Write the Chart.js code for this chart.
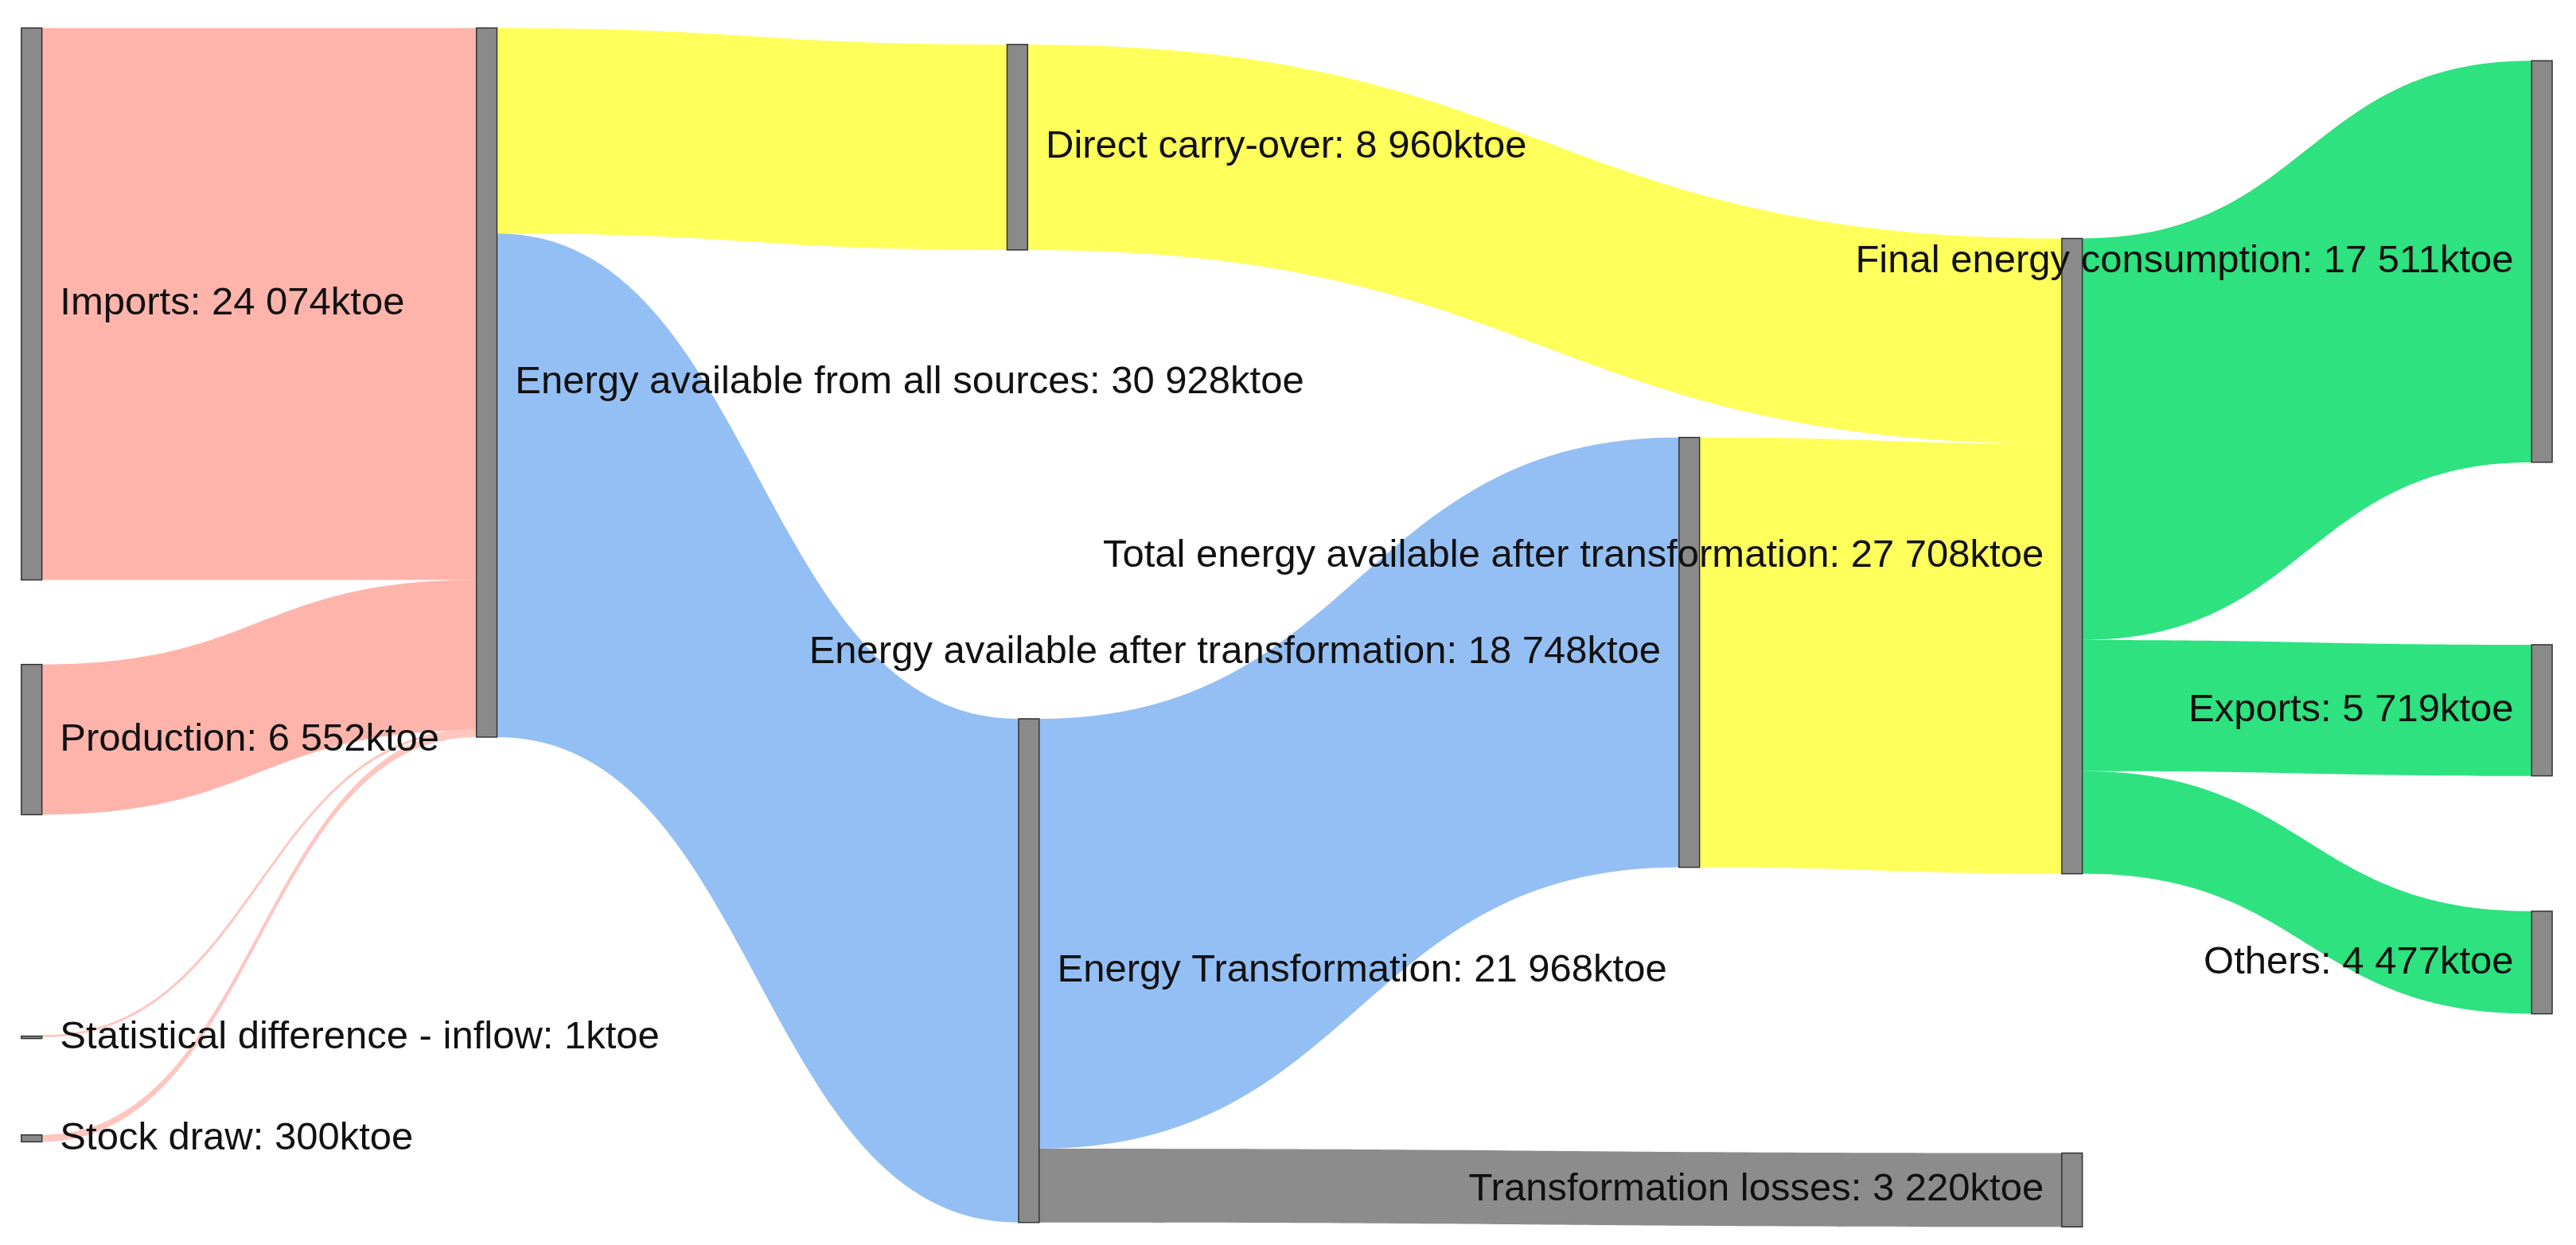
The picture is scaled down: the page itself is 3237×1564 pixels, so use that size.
<!DOCTYPE html>
<html>
<head>
<meta charset="utf-8">
<script src="https://cdn.jsdelivr.net/npm/chart.js@4/dist/chart.umd.min.js"></script>
<style>
  html, body { margin: 0; padding: 0; background: #fff; }
  #wrap { width: 3237px; height: 1564px; }
</style>
</head>
<body>
<div id="wrap"><canvas id="sankey"></canvas></div>
<script>
// nodes (values in ktoe)
const nodeNames = [
  'Imports', 'Production', 'Statistical difference - inflow', 'Stock draw',
  'Energy available from all sources', 'Direct carry-over', 'Energy Transformation',
  'Energy available after transformation', 'Total energy available after transformation',
  'Final energy consumption', 'Exports', 'Others', 'Transformation losses',
]
const nodeValues = [24074, 6552, 1, 300, 30928, 8960, 21968, 18748, 27708, 17511, 5719, 4477, 3220]

// flows: from, to, ktoe
const linkFrom  = [0, 1, 2, 3, 4, 4, 5, 6, 6, 7, 8, 8, 8]
const linkTo    = [4, 4, 4, 4, 5, 6, 8, 7, 12, 8, 9, 10, 11]
const linkValue = [24074, 6552, 1, 300, 8960, 21968, 8960, 18748, 3220, 18748, 17511, 5719, 4477]

// layout: column x (in 1568-wide units) and node top (in ktoe along the y axis)
const nodeX   = [13, 13, 13, 13, 290, 613, 620, 1022, 1255, 1541, 1541, 1541, 1255]
const nodeTop = [1220, 28980, 45190, 49500, 1220, 1940, 31350, 19080, 10400, 2650, 28120, 39740, 50290]
const NODE_W = 12.5

const PINK = '#ffb4ab', YELLOW = '#ffff5c', BLUE = '#94bff4', GREEN = '#2de27f', GREY = '#8c8c8c'
const linkColor = [PINK, PINK, '#ffc6c0', '#ffc6c0', YELLOW, BLUE, YELLOW, BLUE, GREY, YELLOW, GREEN, GREEN, GREEN]

function fmt(v) {
  return String(v).replace(/\B(?=(\d{3})+(?!\d))/g, ' ') + 'ktoe'
}

const sankeyPlugin = {
  id: 'sankey',
  afterDatasetsDraw(chart) {
    const { ctx, scales: { x, y } } = chart
    const px = v => x.getPixelForValue(v)
    const py = v => y.getPixelForValue(v)
    const outOff = nodeValues.map(() => 0)
    const inOff = nodeValues.map(() => 0)

    ctx.save()
    linkValue.forEach((v, i) => {
      const s = linkFrom[i], t = linkTo[i]
      const x0 = px(nodeX[s] + NODE_W), x1 = px(nodeX[t])
      const s0 = py(nodeTop[s] + outOff[s]), s1 = py(nodeTop[s] + outOff[s] + v)
      const t0 = py(nodeTop[t] + inOff[t]), t1 = py(nodeTop[t] + inOff[t] + v)
      outOff[s] += v
      inOff[t] += v
      const xa = x0 + (x1 - x0) * 0.5, xb = x0 + (x1 - x0) * 0.5
      if (s1 - s0 < 3) {
        ctx.strokeStyle = linkColor[i]
        ctx.lineWidth = Math.max(3, s1 - s0)
        ctx.beginPath()
        ctx.moveTo(x0, (s0 + s1) / 2)
        ctx.bezierCurveTo(xa, (s0 + s1) / 2, xb, (t0 + t1) / 2, x1, (t0 + t1) / 2)
        ctx.stroke()
        return
      }
      ctx.fillStyle = linkColor[i]
      ctx.beginPath()
      ctx.moveTo(x0, s0)
      ctx.bezierCurveTo(xa, s0, xb, t0, x1, t0)
      ctx.lineTo(x1, t1)
      ctx.bezierCurveTo(xb, t1, xa, s1, x0, s1)
      ctx.closePath()
      ctx.fill()
    })

    const fs = Math.round(chart.width / 1568 * 23.5)
    nodeValues.forEach((v, i) => {
      const l = px(nodeX[i]), r = px(nodeX[i] + NODE_W)
      const t = py(nodeTop[i]), b = Math.max(py(nodeTop[i] + v), t + 3)
      ctx.fillStyle = '#8a8a8a'
      ctx.fillRect(l, t, r - l, b - t)
      ctx.strokeStyle = '#333'
      ctx.lineWidth = 1.5
      ctx.strokeRect(l, t, r - l, b - t)

      ctx.font = fs + 'px Arial, "Liberation Sans", sans-serif'
      ctx.fillStyle = '#111'
      ctx.textBaseline = 'middle'
      const left = nodeX[i] > 900
      ctx.textAlign = left ? 'right' : 'left'
      ctx.fillText(nodeNames[i] + ': ' + fmt(v), left ? l - px(11) : r + px(11), (t + b) / 2)
    })
    ctx.restore()
  },
}

new Chart(document.getElementById('sankey'), {
  type: 'scatter',
  data: { datasets: [{ data: [] }] },
  options: {
    responsive: true,
    maintainAspectRatio: false,
    animation: false,
    layout: { padding: 0 },
    plugins: { legend: { display: false }, tooltip: { enabled: false } },
    scales: {
      x: { type: 'linear', min: 0, max: 1568, display: false },
      y: { type: 'linear', min: 0, max: 54300, reverse: true, display: false },
    },
  },
  plugins: [sankeyPlugin],
})
</script>
</body>
</html>
